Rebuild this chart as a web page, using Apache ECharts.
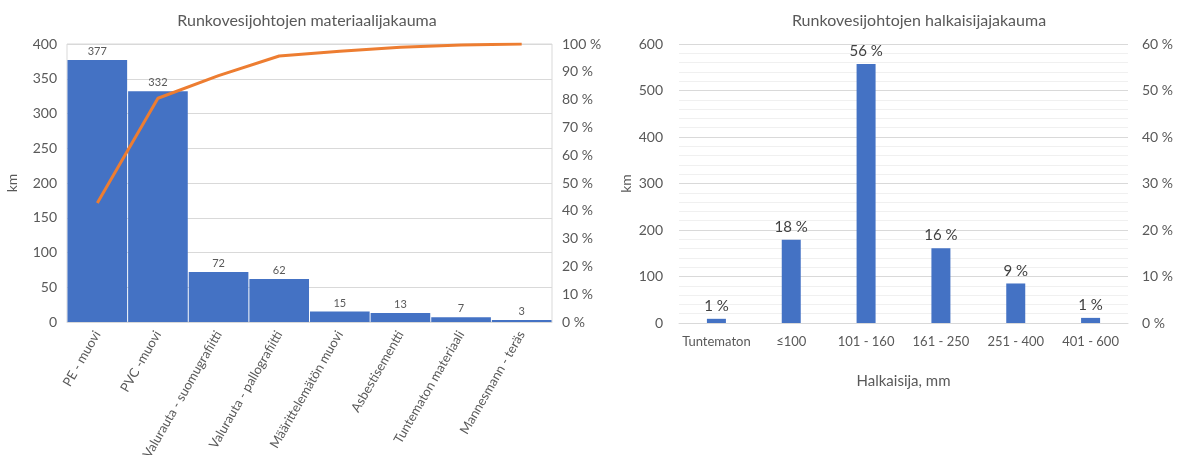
<!DOCTYPE html>
<html>
<head>
<meta charset="utf-8">
<script src="https://cdn.jsdelivr.net/npm/echarts@6/dist/echarts.min.js"></script>
<style>
  html, body { margin: 0; padding: 0; background: #fff; }
  #chart { width: 1184px; height: 455px; }
</style>
</head>
<body>
<div id="chart"></div>
<script>
// Main water pipes by material (km)
const materials = ['PE - muovi', 'PVC -muovi', 'Valurauta - suomugrafiitti', 'Valurauta - pallografiitti',
  'Määrittelemätön muovi', 'Asbestisementti', 'Tuntematon materiaali', 'Mannesmann - teräs'];
const materialKm = [377, 332, 72, 62, 15, 13, 7, 3];

// Main water pipes by diameter (km) and their shares
const diameters = ['Tuntematon', '≤100', '101 - 160', '161 - 250', '251 - 400', '401 - 600'];
const diameterKm = [9, 179, 557, 161, 85, 11];
const diameterShare = ['1 %', '18 %', '56 %', '16 %', '9 %', '1 %'];

const titles = ['Runkovesijohtojen materiaalijakauma', 'Runkovesijohtojen halkaisijajakauma'];

// cumulative share for the Pareto line
const totalKm = materialKm.reduce((a, b) => a + b, 0);
let run = 0;
const cumulative = materialKm.map(v => { run += v; return run / totalKm; });

const FONT = 'Lato, "Open Sans", sans-serif';
const GREY = '#595959';
const GRID = '#d9d9d9';
const pct = v => Math.round(v * 100) + ' %';

const chart = echarts.init(document.getElementById('chart'));
chart.setOption({
  animation: false,
  textStyle: { fontFamily: FONT },
  title: [
    { text: titles[0], left: 302, top: 8, textAlign: 'center',
      textStyle: { fontSize: 16, fontWeight: 'normal', color: GREY, fontFamily: FONT } },
    { text: titles[1], left: 914, top: 8, textAlign: 'center',
      textStyle: { fontSize: 16, fontWeight: 'normal', color: GREY, fontFamily: FONT } }
  ],
  grid: [
    { left: 67, right: 632, top: 44, bottom: 133, outerBoundsMode: 'none', containLabel: false,
      show: true, borderColor: GRID, borderWidth: 1 },
    { left: 679, right: 56, top: 44, bottom: 132, outerBoundsMode: 'none', containLabel: false }
  ],
  xAxis: [
    { type: 'category', gridIndex: 0, data: materials,
      axisLine: { lineStyle: { color: GRID } }, axisTick: { show: false },
      axisLabel: { rotate: 60, color: GREY, fontSize: 13, margin: 10, interval: 0 } },
    { type: 'category', gridIndex: 1, data: diameters,
      axisLine: { lineStyle: { color: GRID } }, axisTick: { show: false },
      axisLabel: { color: GREY, fontSize: 13, margin: 12, interval: 0 },
      name: 'Halkaisija, mm', nameLocation: 'middle', nameGap: 51,
      nameTextStyle: { color: GREY, fontSize: 15 } }
  ],
  yAxis: [
    { type: 'value', gridIndex: 0, min: 0, max: 400, interval: 50,
      name: 'km', nameLocation: 'middle', nameGap: 48, nameTextStyle: { color: GREY, fontSize: 14 },
      axisLabel: { color: GREY, fontSize: 14, margin: 10 },
      axisLine: { show: false }, axisTick: { show: false },
      splitLine: { lineStyle: { color: GRID } } },
    { type: 'value', gridIndex: 0, position: 'right', min: 0, max: 1, interval: 0.1,
      axisLabel: { color: GREY, fontSize: 14, margin: 10, formatter: pct },
      axisLine: { show: false }, axisTick: { show: false }, splitLine: { show: false } },
    { type: 'value', gridIndex: 1, min: 0, max: 600, interval: 100,
      name: 'km', nameLocation: 'middle', nameGap: 46, nameTextStyle: { color: GREY, fontSize: 14 },
      axisLabel: { color: GREY, fontSize: 14, margin: 16 },
      axisLine: { show: false }, axisTick: { show: false },
      splitLine: { lineStyle: { color: GRID } },
      minorTick: { show: false, splitNumber: 5 },
      minorSplitLine: { show: true, lineStyle: { color: '#f0f0f0' } } },
    { type: 'value', gridIndex: 1, position: 'right', min: 0, max: 0.6, interval: 0.1,
      axisLabel: { color: GREY, fontSize: 14, margin: 14, formatter: pct },
      axisLine: { show: false }, axisTick: { show: false }, splitLine: { show: false } }
  ],
  series: [
    { type: 'bar', xAxisIndex: 0, yAxisIndex: 0, data: materialKm, barCategoryGap: '1.6%',
      itemStyle: { color: '#4472C4' },
      label: { show: true, position: 'top', distance: 3, color: GREY, fontSize: 11 } },
    { type: 'line', xAxisIndex: 0, yAxisIndex: 1, data: cumulative, showSymbol: false,
      lineStyle: { color: '#ED7D31', width: 3 }, z: 5 },
    { type: 'bar', xAxisIndex: 1, yAxisIndex: 2, data: diameterKm, barWidth: 19,
      itemStyle: { color: '#4472C4' },
      label: { show: true, position: 'top', distance: 5, color: '#404040', fontSize: 15,
        formatter: p => diameterShare[p.dataIndex] } }
  ]
});
</script>
</body>
</html>
